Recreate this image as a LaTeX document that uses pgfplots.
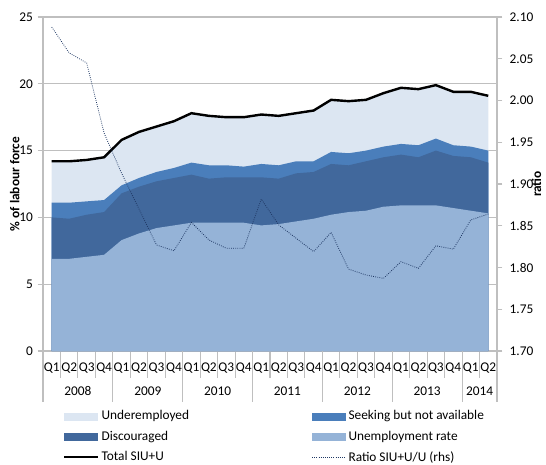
\documentclass[border=0pt]{standalone}
\usepackage{fontspec}
\setmainfont{Carlito}
\usepackage{pgfplots}
\pgfplotsset{compat=1.18}
\usepackage{pgfplotstable}

\definecolor{cUnder}{HTML}{DCE6F2}
\definecolor{cSeek}{HTML}{4A7EBB}
\definecolor{cDisc}{HTML}{41689C}
\definecolor{cUnemp}{HTML}{95B3D7}
\definecolor{cRatio}{HTML}{1F3864}
\definecolor{cAxis}{HTML}{BFBFBF}

% U = unemployment rate, D = U + discouraged, S = D + seeking, T = total SIU+U, R = ratio (rhs)
\pgfplotstableread{
q U D S T R
0 6.9 10.0 11.1 14.2 2.088
1 6.9 9.9 11.1 14.2 2.057
2 7.05 10.2 11.2 14.3 2.045
3 7.2 10.4 11.3 14.5 1.961
4 8.3 11.8 12.4 15.8 1.913
5 8.8 12.3 12.95 16.4 1.870
6 9.2 12.7 13.4 16.8 1.827
7 9.4 12.95 13.7 17.2 1.820
8 9.6 13.2 14.1 17.8 1.854
9 9.6 12.9 13.9 17.6 1.833
10 9.6 13.0 13.9 17.5 1.823
11 9.6 13.0 13.8 17.5 1.823
12 9.4 13.0 14.0 17.7 1.882
13 9.5 12.9 13.9 17.6 1.851
14 9.7 13.3 14.2 17.8 1.835
15 9.9 13.4 14.2 18.0 1.819
16 10.2 14.0 14.9 18.8 1.842
17 10.4 13.9 14.8 18.7 1.798
18 10.5 14.2 15.0 18.8 1.791
19 10.8 14.5 15.3 19.3 1.787
20 10.9 14.7 15.5 19.7 1.807
21 10.9 14.5 15.4 19.6 1.799
22 10.9 15.0 15.9 19.9 1.826
23 10.7 14.6 15.4 19.4 1.822
24 10.5 14.5 15.3 19.4 1.857
25 10.3 14.1 15.0 19.1 1.864
}\siu

\begin{document}
\begin{tikzpicture}[font=\fontsize{10}{12}\selectfont]
  \begin{axis}[
      name=main,
      scale only axis, width=340.5pt, height=250.5pt,
      xmin=-0.5, xmax=25.5, ymin=0, ymax=25,
      clip=false,
      axis y line*=left, axis x line*=bottom,
      axis line style={cAxis, line width=0.8pt},
      ytick={0,5,...,25},
      ymajorgrids, grid style={cAxis, line width=0.8pt},
      tick align=outside,
      major tick length=4pt,
      ytick style={cAxis, line width=0.8pt},
      /pgf/number format/assume math mode=true,
      xtick={0,...,25},
      xticklabels={Q1,Q2,Q3,Q4,Q1,Q2,Q3,Q4,Q1,Q2,Q3,Q4,Q1,Q2,Q3,Q4,Q1,Q2,Q3,Q4,Q1,Q2,Q3,Q4,Q1,Q2},
      major x tick style={draw=none},
      minor xtick={-0.5,0.5,...,25.5},
      minor tick length=20pt,
      minor x tick style={cAxis, line width=0.8pt},
      xticklabel style={yshift=-1pt},
      ylabel={\textbf{\% of labour force}},
      ylabel style={at={(axis description cs:-0.062,0.5)}, anchor=center},
      legend columns=2,
      legend cell align=left,
      legend style={at={(axis description cs:0.035,-0.162)}, anchor=north west,
        draw=none, fill=none, row sep=2.8pt,
        /tikz/every even column/.append style={column sep=90pt}},
    ]
    \addplot[fill=cUnder, draw=none, forget plot] table[x=q, y=T]{\siu} \closedcycle;
    \addplot[fill=cSeek, draw=none, forget plot] table[x=q, y=S]{\siu} \closedcycle;
    \addplot[fill=cDisc, draw=none, forget plot] table[x=q, y=D]{\siu} \closedcycle;
    \addplot[fill=cUnemp, draw=none, forget plot] table[x=q, y=U]{\siu} \closedcycle;
    \addplot[black, line width=1.8pt, forget plot] table[x=q, y=T]{\siu};

    \addlegendimage{legend image code/.code={\fill[cUnder] (0pt,-2.6pt) rectangle (25pt,2.6pt);}}
    \addlegendentry{Underemployed}
    \addlegendimage{legend image code/.code={\fill[cSeek] (0pt,-2.6pt) rectangle (25pt,2.6pt);}}
    \addlegendentry{Seeking but not available}
    \addlegendimage{legend image code/.code={\fill[cDisc] (0pt,-2.6pt) rectangle (25pt,2.6pt);}}
    \addlegendentry{Discouraged}
    \addlegendimage{legend image code/.code={\fill[cUnemp] (0pt,-2.6pt) rectangle (25pt,2.6pt);}}
    \addlegendentry{Unemployment rate}
    \addlegendimage{legend image code/.code={\draw[black, line width=1.8pt] (0pt,0pt) -- (25pt,0pt);}}
    \addlegendentry{Total SIU+U}
    \addlegendimage{legend image code/.code={\draw[cRatio, densely dotted, line width=0.6pt] (0pt,0pt) -- (25pt,0pt);}}
    \addlegendentry{Ratio SIU+U/U (rhs)}

    % year separators and labels
    \pgfplotsinvokeforeach{-0.5,3.5,7.5,11.5,15.5,19.5,23.5,25.5}{
      \draw[cAxis, line width=0.8pt] (axis cs:#1,0) -- ++(0pt,-38pt);
    }
    \node[yshift=-30pt] at (axis cs:1.5,0) {2008};
    \node[yshift=-30pt] at (axis cs:5.5,0) {2009};
    \node[yshift=-30pt] at (axis cs:9.5,0) {2010};
    \node[yshift=-30pt] at (axis cs:13.5,0) {2011};
    \node[yshift=-30pt] at (axis cs:17.5,0) {2012};
    \node[yshift=-30pt] at (axis cs:21.5,0) {2013};
    \node[yshift=-30pt] at (axis cs:24.5,0) {2014};
  \end{axis}

  \begin{axis}[
      scale only axis, width=340.5pt, height=250.5pt,
      xmin=-0.5, xmax=25.5, ymin=1.70, ymax=2.10,
      axis y line*=right, axis x line=none,
      axis line style={cAxis, line width=0.8pt},
      ytick={1.70,1.75,...,2.11},
      tick align=outside, major tick length=4pt,
      ytick style={cAxis, line width=0.8pt},
      /pgf/number format/assume math mode=true,
      yticklabel style={/pgf/number format/fixed, /pgf/number format/fixed zerofill,
        /pgf/number format/precision=2, xshift=2pt},
      ylabel={\textbf{ratio}},
      ylabel style={at={(axis description cs:1.087,0.5)}, anchor=center},
    ]
    \addplot[cRatio, densely dotted, line width=0.6pt] table[x=q, y=R]{\siu};
  \end{axis}

  \pgfresetboundingbox
  \path (main.south west) ++(-32.25pt,-84.75pt) rectangle ++(409.5pt,348pt);
\end{tikzpicture}
\end{document}
